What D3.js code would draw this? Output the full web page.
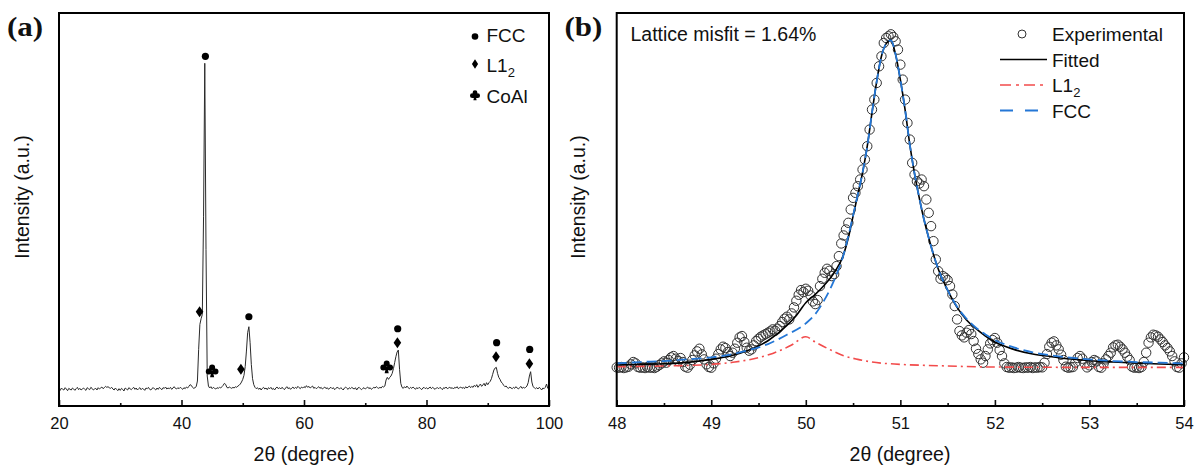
<!DOCTYPE html>
<html><head><meta charset="utf-8">
<script src="https://cdn.jsdelivr.net/npm/d3@7"></script>
<style>
body{margin:0;background:#fff;}
svg{display:block;}
text{fill:#111;}
</style>
</head><body>
<svg id="chart" width="1197" height="467" font-family="'Liberation Sans',Arial,sans-serif"></svg>
<script>
// ---------- Panel (a): XRD pattern ----------
const xrdStart = 20, xrdStep = 0.2;   // 2θ sampling grid (degree)
const xrdIntensity = [
  2,-3,4,0,-2,5,1,-4,3,0,
  -2,4,1,-3,2,6,-1,3,-2,1,
  4,0,-3,5,2,-1,6,3,-2,1,
  3,-2,5,1,4,7,2,5,9,6,
  8,5,3,6,1,-2,4,0,-4,2,
  -3,3,0,-5,4,1,-2,5,2,-1,
  3,6,0,4,-2,2,5,-1,3,1,
  -3,4,2,6,0,-2,3,5,1,-2,
  4,0,6,2,-1,5,3,7,1,4,
  2,6,0,4,8,3,1,5,2,6,
  3,0,5,2,7,4,9,14,12,6,
  3,5,8,25,120,195,212,225,520,979,
  420,40,10,4,8,2,6,3,1,5,
  3,6,4,8,12,18,15,6,4,7,
  5,3,6,4,8,6,10,12,16,22,
  30,42,68,115,170,188,140,75,32,14,
  6,2,5,0,4,-2,3,6,1,4,
  -1,5,2,6,0,3,-2,4,7,2,
  5,1,6,3,-1,4,8,2,5,0,
  4,7,2,6,3,9,5,2,7,4,
  8,5,11,6,9,4,7,10,3,6,
  2,5,8,3,6,1,4,7,2,5,
  0,4,6,2,5,-1,3,6,4,1,
  5,2,-2,4,7,3,0,5,2,6,
  3,1,5,-2,4,6,2,-1,3,5,
  1,4,7,2,5,0,3,6,4,8,
  5,3,6,4,9,7,10,28,36,30,
  36,40,48,62,80,98,112,118,60,18,
  6,3,8,4,10,5,2,6,3,7,
  4,0,5,2,6,3,-1,4,6,2,
  5,1,4,7,2,6,3,0,4,5,
  2,6,3,-1,5,3,7,2,4,6,
  3,5,1,6,4,8,2,5,7,3,
  6,2,8,4,7,10,5,9,6,12,
  8,14,6,11,16,9,13,18,10,20,
  14,20,24,32,45,58,64,66,48,36,
  30,22,18,12,8,10,5,3,7,4,
  2,6,3,8,4,1,5,9,3,6,
  4,6,10,20,40,53,22,8,5,2,
  5,1,6,3,-2,4,2,6,16,3,
  2
];
// phase markers [2θ, intensity]
const fccMarksA  = [[43.9,1000],[51.0,218],[75.3,182],[91.45,140],[96.85,120]];
const l12MarksA  = [[42.95,233],[49.7,60],[75.25,140],[91.35,98],[96.8,77]];
const coalMarksA = [[45.0,56],[73.5,68]];
const legendA = ["FCC","L1","CoAl"];
const majorTicksA = [20,40,60,80,100];
const minorTicksA = [30,50,70,90];

// ---------- Panel (b): peak fit ----------
const expStart = 48, expStep = 0.025;
const expIntensity = [
  -4,-5,-3,-6,-4,-2,5,12,
  8,-3,-5,-4,-6,-3,-5,-4,
  -6,-2,3,8,14,10,18,26,
  30,22,15,24,12,-2,-5,4,
  18,32,44,52,35,20,5,-3,
  -5,8,22,36,50,58,54,42,
  30,40,52,70,86,90,72,55,
  46,50,62,75,82,88,92,96,
  100,104,110,106,112,120,132,142,
  148,140,158,176,196,214,228,222,
  232,226,212,194,186,198,240,262,
  280,292,286,270,276,300,330,368,
  392,410,430,470,505,520,540,560,
  590,620,660,710,770,800,850,900,
  930,970,985,990,996,988,975,950,
  905,860,800,730,680,610,575,555,
  548,560,540,500,460,420,375,320,
  285,262,270,265,258,240,215,180,
  140,105,92,86,100,108,96,75,
  52,36,20,10,30,50,68,78,
  84,70,48,30,8,-3,-5,-4,
  -6,-5,-3,-5,-6,-4,-5,-3,
  -6,-4,-5,-3,-4,10,36,58,
  70,74,62,50,34,18,-2,-5,
  -4,-3,10,24,30,22,8,-4,
  2,12,18,14,-3,-5,8,20,
  30,40,56,62,64,58,50,40,
  28,18,-2,-5,-4,-6,-3,12,
  40,70,86,94,92,88,80,72,
  62,54,44,30,14,-3,-5,8,
  26
];
const fittedCurve = [[48.0,3],[48.25,5],[48.5,7],[48.75,11],[49.0,20],[49.2,30],[49.4,48],[49.6,76],[49.8,122],[49.9,152],
  [50.0,190],[50.1,215],[50.2,244],[50.3,280],[50.4,335],[50.45,385],[50.5,450],[50.55,515],[50.6,580],[50.65,660],
  [50.7,760],[50.75,855],[50.8,930],[50.85,968],[50.9,978],[50.95,935],[51.0,860],[51.05,770],[51.1,665],[51.15,578],
  [51.2,505],[51.25,440],[51.3,385],[51.35,335],[51.4,292],[51.5,228],[51.6,176],[51.7,138],[51.8,112],[51.9,90],
  [52.0,72],[52.2,50],[52.4,36],[52.6,28],[52.8,21],[53.0,16],[53.25,12],[53.5,9],[53.75,6],[54.0,4]];
const fccCurve = [[48.0,8],[48.25,12],[48.5,15],[48.75,20],[49.0,26],[49.2,34],[49.4,48],[49.6,66],[49.8,94],[50.0,128],
  [50.1,156],[50.2,200],[50.3,258],[50.4,335],[50.45,390],[50.5,452],[50.55,515],[50.6,580],[50.65,660],
  [50.7,760],[50.75,855],[50.8,930],[50.85,968],[50.9,978],[50.95,935],[51.0,860],[51.05,770],[51.1,665],[51.15,578],
  [51.2,505],[51.25,440],[51.3,385],[51.35,335],[51.4,292],[51.5,228],[51.6,178],[51.7,142],[51.8,115],[51.9,95],
  [52.0,78],[52.2,56],[52.4,41],[52.6,32],[52.8,25],[53.0,20],[53.25,15],[53.5,12],[53.75,10],[54.0,8]];
const l12Curve = [[48.0,-2],[48.5,0],[49.0,5],[49.25,12],[49.45,22],[49.65,38],[49.85,63],[50.0,88],[50.1,72],
  [50.25,50],[50.4,31],[50.55,20],[50.7,12],[51.0,5],[51.4,1],[52.0,-3],[53.0,-4],[54.0,-4]];
const legendB = ["Experimental","Fitted","L1","FCC"];
const misfitLabel = "Lattice misfit = 1.64%";
const majorTicksB = [48,49,50,51,52,53,54];
const minorTicksB = [48.5,49.5,50.5,51.5,52.5,53.5];

// ---------- drawing ----------
const svg = d3.select("#chart");
const plotTop = 13, plotBottom = 406;
const xA = d3.scaleLinear().domain([20,100]).range([59,549]);
const yA = d3.scaleLinear().domain([-50,1130]).range([plotBottom,plotTop]);
const xB = d3.scaleLinear().domain([48,54]).range([616.7,1184]);
const yB = d3.scaleLinear().domain([-120,1060]).range([plotBottom,plotTop]);

const RED = "#f24b4b", BLUE = "#2477d6";
const SERIF = "'Liberation Serif','Times New Roman',serif";

function diamond(w,h){return `M0,${-h}L${w},0L0,${h}L${-w},0Z`;}
function club(s){
  const r=0.25*s, pts=[[0,-0.26*s],[-0.28*s,0.07*s],[0.28*s,0.07*s]];
  let p="";
  pts.forEach(([cx,cy])=>{p+=`M${cx-r},${cy}a${r},${r} 0 1,0 ${2*r},0a${r},${r} 0 1,0 ${-2*r},0`;});
  p+=`M${-0.05*s},-0.05L${-0.17*s},${0.55*s}L${0.17*s},${0.55*s}L${0.05*s},-0.05Z`;
  return p;
}

function drawAxes(x, major, minor, fmt){
  const gMaj = svg.append("g").attr("transform",`translate(0,${plotBottom})`)
    .call(d3.axisBottom(x).tickValues(major).tickSize(-6).tickSizeOuter(0).tickPadding(11).tickFormat(fmt));
  gMaj.attr("font-family",null).attr("font-size",null);
  gMaj.select(".domain").remove();
  gMaj.selectAll("line").attr("stroke","#111").attr("stroke-width",1.6);
  gMaj.selectAll("text").attr("font-size",16.5).attr("fill","#111");
  const gMin = svg.append("g").attr("transform",`translate(0,${plotBottom})`)
    .call(d3.axisBottom(x).tickValues(minor).tickSize(-3).tickSizeOuter(0).tickFormat(""));
  gMin.select(".domain").remove();
  gMin.selectAll("line").attr("stroke","#111").attr("stroke-width",1.6);
}

// Panel (a)
const xrdPoints = xrdIntensity.map((v,i)=>[xrdStart+i*xrdStep, v]);
svg.append("path").datum(xrdPoints)
  .attr("d", d3.line().x(d=>xA(d[0])).y(d=>yA(d[1])))
  .attr("fill","none").attr("stroke","#2a2a2a").attr("stroke-width",1);

svg.selectAll(".fccA").data(fccMarksA).enter().append("circle")
  .attr("cx",d=>xA(d[0])).attr("cy",d=>yA(d[1])).attr("r",3.6).attr("fill","#000");
svg.selectAll(".l12A").data(l12MarksA).enter().append("path")
  .attr("d",diamond(3.8,5.5)).attr("transform",d=>`translate(${xA(d[0])},${yA(d[1])})`).attr("fill","#000");
svg.selectAll(".coalA").data(coalMarksA).enter().append("path")
  .attr("d",club(12)).attr("transform",d=>`translate(${xA(d[0])},${yA(d[1])})`).attr("fill","#000");

drawAxes(xA, majorTicksA, minorTicksA, d3.format("d"));
svg.append("rect").attr("x",59).attr("y",plotTop).attr("width",490).attr("height",plotBottom-plotTop)
  .attr("fill","none").attr("stroke","#000").attr("stroke-width",2);

// legend (a)
svg.append("circle").attr("cx",475).attr("cy",36.5).attr("r",3.3).attr("fill","#000");
svg.append("path").attr("d",diamond(3.1,4.8)).attr("transform","translate(475,64)").attr("fill","#000");
svg.append("path").attr("d",club(9.5)).attr("transform","translate(475,95)").attr("fill","#000");
svg.append("text").attr("x",486.5).attr("y",42).attr("font-size",19).text(legendA[0]);
const tL = svg.append("text").attr("x",486.5).attr("y",72).attr("font-size",19);
tL.append("tspan").text(legendA[1]);
tL.append("tspan").attr("font-size",13).attr("dy",5).text("2");
svg.append("text").attr("x",486.5).attr("y",102.5).attr("font-size",19).text(legendA[2]);

// titles (a)
svg.append("text").attr("transform","translate(29,197) rotate(-90)").attr("text-anchor","middle")
  .attr("font-size",19.5).text("Intensity (a.u.)");
svg.append("text").attr("x",304).attr("y",461).attr("text-anchor","middle")
  .attr("font-size",19.5).text("2θ (degree)");
svg.append("text").attr("transform","translate(7,35.5) scale(1.15,1)")
  .attr("font-family",SERIF).attr("font-weight","bold")
  .attr("font-size",27).text("(a)");

// Panel (b)
const expPoints = expIntensity.map((v,i)=>[expStart+i*expStep, v]);
svg.selectAll(".exp").data(expPoints).enter().append("circle")
  .attr("cx",d=>xB(d[0])).attr("cy",d=>yB(d[1])).attr("r",4.7)
  .attr("fill","none").attr("stroke","#333").attr("stroke-width",1);

const lineB = d3.line().x(d=>xB(d[0])).y(d=>yB(d[1])).curve(d3.curveMonotoneX);
svg.append("path").datum(fittedCurve).attr("d",lineB)
  .attr("fill","none").attr("stroke","#000").attr("stroke-width",1.6);
svg.append("path").datum(l12Curve).attr("d",lineB)
  .attr("fill","none").attr("stroke",RED).attr("stroke-width",1.6).attr("stroke-dasharray","9,4,2,4");
svg.append("path").datum(fccCurve).attr("d",lineB)
  .attr("fill","none").attr("stroke",BLUE).attr("stroke-width",1.8).attr("stroke-dasharray","10,5");

drawAxes(xB, majorTicksB, minorTicksB, d3.format("d"));
svg.append("rect").attr("x",616.7).attr("y",plotTop).attr("width",1184-616.7).attr("height",plotBottom-plotTop)
  .attr("fill","none").attr("stroke","#000").attr("stroke-width",2);

// legend (b)
svg.append("circle").attr("cx",1022).attr("cy",34).attr("r",4).attr("fill","none").attr("stroke","#333").attr("stroke-width",1);
svg.append("line").attr("x1",1000).attr("x2",1047).attr("y1",59.5).attr("y2",59.5).attr("stroke","#000").attr("stroke-width",1.6);
svg.append("line").attr("x1",1000).attr("x2",1047).attr("y1",85).attr("y2",85).attr("stroke",RED).attr("stroke-width",1.6).attr("stroke-dasharray","11,5,3,5");
svg.append("line").attr("x1",1000).attr("x2",1047).attr("y1",110.5).attr("y2",110.5).attr("stroke",BLUE).attr("stroke-width",1.8).attr("stroke-dasharray","13,12");
svg.append("text").attr("x",1052).attr("y",41).attr("font-size",19).text(legendB[0]);
svg.append("text").attr("x",1052).attr("y",66.5).attr("font-size",19).text(legendB[1]);
const tL2 = svg.append("text").attr("x",1052).attr("y",92).attr("font-size",19);
tL2.append("tspan").text(legendB[2]);
tL2.append("tspan").attr("font-size",13).attr("dy",5).text("2");
svg.append("text").attr("x",1052).attr("y",117.5).attr("font-size",19).text(legendB[3]);

svg.append("text").attr("x",630.5).attr("y",41).attr("font-size",19.5).text(misfitLabel);

svg.append("text").attr("transform","translate(585,197) rotate(-90)").attr("text-anchor","middle")
  .attr("font-size",19.5).text("Intensity (a.u.)");
svg.append("text").attr("x",900).attr("y",461).attr("text-anchor","middle")
  .attr("font-size",19.5).text("2θ (degree)");
svg.append("text").attr("transform","translate(564.5,35.5) scale(1.15,1)")
  .attr("font-family",SERIF).attr("font-weight","bold")
  .attr("font-size",27).text("(b)");
</script>
</body></html>
